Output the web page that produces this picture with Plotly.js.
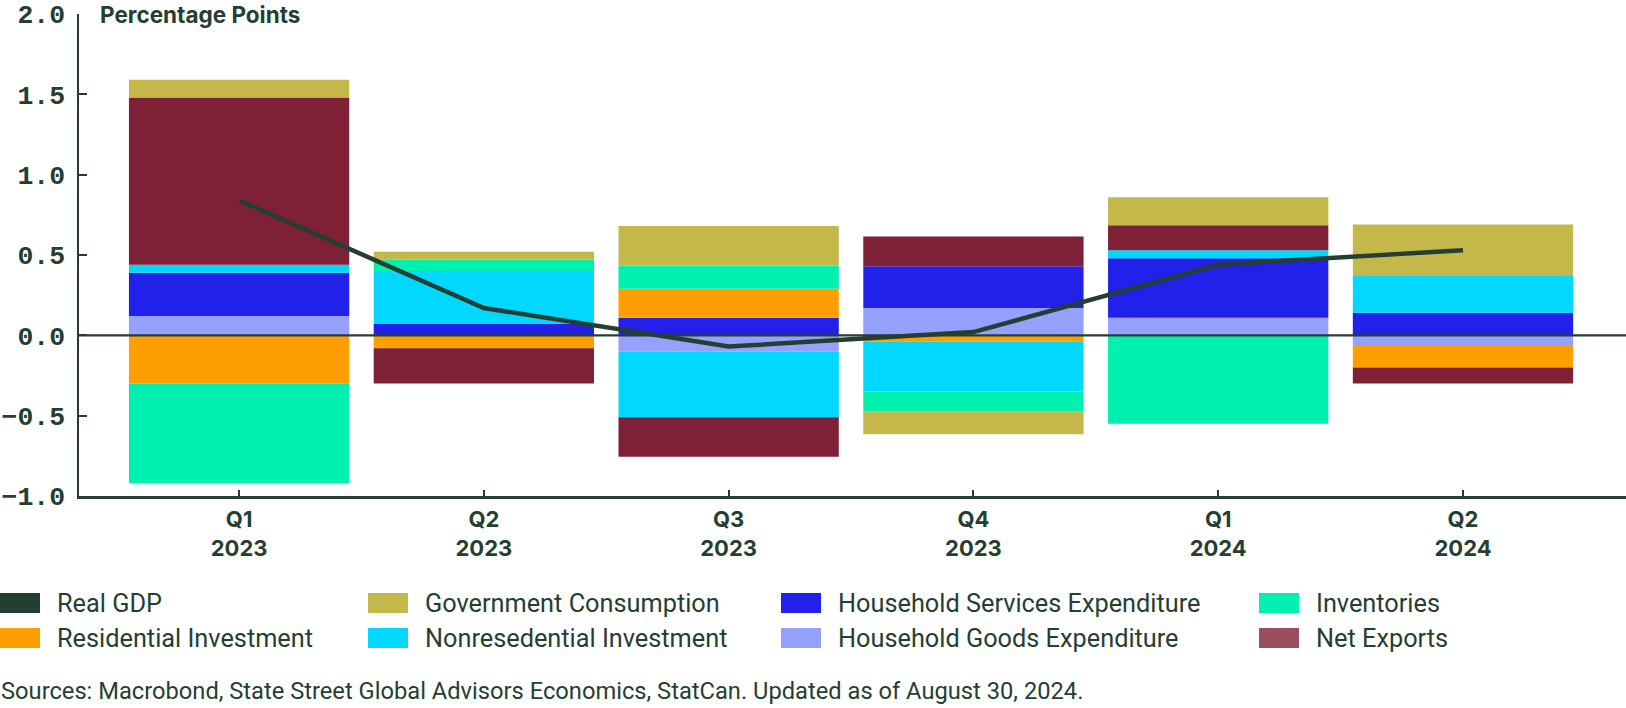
<!DOCTYPE html>
<html>
<head>
<meta charset="utf-8">
<script src="https://cdn.plot.ly/plotly-3.0.1.min.js"></script>
<style>
  html, body { margin: 0; padding: 0; background: #ffffff; }
  #chart { width: 1626px; height: 708px; }
</style>
</head>
<body>
<div id="chart"></div>
<script>
// ---- Data ----
const categories = ['Q1<br>2023', 'Q2<br>2023', 'Q3<br>2023', 'Q4<br>2023', 'Q1<br>2024', 'Q2<br>2024'];

const householdGoods    = [0.12, 0.00, -0.10, 0.17, 0.11, -0.06];
const householdServices = [0.27, 0.07, 0.11, 0.26, 0.37, 0.14];
const residential       = [-0.30, -0.08, 0.18, -0.04, 0.00, -0.14];
const nonresidential    = [0.05, 0.33, -0.41, -0.31, 0.05, 0.23];
const inventories       = [-0.62, 0.07, 0.145, -0.125, -0.55, 0.00];
const netExports        = [1.04, -0.22, -0.245, 0.185, 0.155, -0.10];
const government        = [0.11, 0.05, 0.245, -0.14, 0.175, 0.32];
const realGDP           = [0.84, 0.17, -0.07, 0.02, 0.44, 0.53];

const yTickValues = [-1.0, -0.5, 0.0, 0.5, 1.0, 1.5, 2.0];

// ---- Styles ----
const C = {
  ink: '#243f32',
  gov: '#c4b84b',
  hhs: '#2121ea',
  inv: '#00f0b0',
  res: '#ff9e00',
  nonres: '#00d8ff',
  hhg: '#96a0ff',
  nx: '#7f2136',
  nxLegend: '#9b4e5e'
};

// stacking order (bottom-up for positive, top-down for negative)
const barSeries = [
  { name: 'Household Goods Expenditure',    y: householdGoods,    color: C.hhg },
  { name: 'Household Services Expenditure', y: householdServices, color: C.hhs },
  { name: 'Residential Investment',         y: residential,       color: C.res },
  { name: 'Nonresedential Investment',      y: nonresidential,    color: C.nonres },
  { name: 'Inventories',                    y: inventories,       color: C.inv },
  { name: 'Net Exports',                    y: netExports,        color: C.nx },
  { name: 'Government Consumption',         y: government,        color: C.gov }
];

const traces = barSeries.map(s => ({
  type: 'bar',
  name: s.name,
  x: categories,
  y: s.y,
  marker: { color: s.color, line: { width: 0 } },
  showlegend: false,
  hoverinfo: 'x+y+name'
}));

traces.push({
  type: 'scatter',
  mode: 'lines',
  name: 'Real GDP',
  x: categories,
  y: realGDP,
  line: { color: C.ink, width: 4.5 },
  showlegend: false
});

// ---- Geometry of the plot area (pixels) ----
const W = 1626, Hgt = 708;
const M = { l: 79, r: 0, t: 14, b: 212 };
const PW = W - M.l - M.r, PH = Hgt - M.t - M.b;
const px = v => (v - M.l) / PW;          // pixel x -> paper x
const py = v => (Hgt - M.b - v) / PH;    // pixel y -> paper y

// ---- Legend (4 columns, 2 rows) ----
const legendEntries = [
  { name: 'Real GDP',                        color: C.ink,    col: 0, row: 0 },
  { name: 'Residential Investment',          color: C.res,    col: 0, row: 1 },
  { name: 'Government Consumption',          color: C.gov,    col: 1, row: 0 },
  { name: 'Nonresedential Investment',       color: C.nonres, col: 1, row: 1 },
  { name: 'Household Services Expenditure',  color: C.hhs,    col: 2, row: 0 },
  { name: 'Household Goods Expenditure',     color: C.hhg,    col: 2, row: 1 },
  { name: 'Inventories',                     color: C.inv,    col: 3, row: 0 },
  { name: 'Net Exports',                     color: C.nxLegend, col: 3, row: 1 }
];
const colX = [0, 368, 781, 1259];
const rowY = [603, 638];
const swW = 40, swH = 20, txtGap = 15;

const shapes = [
  { type: 'line', xref: 'paper', yref: 'y', x0: 0, x1: 1, y0: 0, y1: 0,
    line: { color: C.ink, width: 2.2 }, layer: 'above' }
];
const annotations = [
  { xref: 'paper', yref: 'paper', x: px(98), y: py(15), xanchor: 'left', yanchor: 'middle',
    text: 'Percentage Points', showarrow: false,
    font: { family: 'Inter, Roboto, sans-serif', size: 22.5, weight: 700, color: C.ink } },
  { xref: 'paper', yref: 'paper', x: px(-1), y: py(691), xanchor: 'left', yanchor: 'middle',
    text: 'Sources: Macrobond, State Street Global Advisors Economics, StatCan. Updated as of August 30, 2024.',
    showarrow: false,
    font: { family: 'Roboto, sans-serif', size: 23.7, weight: 400, color: C.ink } }
];
legendEntries.forEach(e => {
  const x0 = colX[e.col], yc = rowY[e.row];
  shapes.push({ type: 'rect', xref: 'paper', yref: 'paper',
    x0: px(x0), x1: px(x0 + swW), y0: py(yc - swH / 2), y1: py(yc + swH / 2),
    fillcolor: e.color, line: { width: 0 } });
  annotations.push({ xref: 'paper', yref: 'paper', x: px(x0 + swW + txtGap), y: py(yc),
    xanchor: 'left', yanchor: 'middle', text: e.name, showarrow: false,
    font: { family: 'Roboto, sans-serif', size: 25.3, weight: 400, color: C.ink } });
});

const layout = {
  width: W, height: Hgt,
  margin: M,
  paper_bgcolor: '#ffffff',
  plot_bgcolor: '#ffffff',
  barmode: 'relative',
  bargap: 0.1,
  showlegend: false,
  xaxis: {
    type: 'category',
    range: [-0.654, 5.666],
    showline: true, linecolor: C.ink, linewidth: 2.5,
    ticks: 'inside', ticklen: 6, tickwidth: 2, tickcolor: C.ink,
    showgrid: false, zeroline: false,
    ticklabelstandoff: 2,
    tickfont: { family: 'Inter, Roboto, sans-serif', size: 22, weight: 700, color: C.ink }
  },
  yaxis: {
    range: [-1, 2],
    tickvals: yTickValues,
    tickformat: '.1f',
    showline: true, linecolor: C.ink, linewidth: 2.5,
    ticks: 'inside', ticklen: 8, tickwidth: 2, tickcolor: C.ink,
    showgrid: false, zeroline: false,
    ticklabelstandoff: 6,
    tickfont: { family: '"Liberation Mono", "DejaVu Sans Mono", monospace', size: 26.5, weight: 700, color: C.ink }
  },
  shapes: shapes,
  annotations: annotations,
  font: { family: 'Roboto, sans-serif', color: C.ink }
};

Plotly.newPlot('chart', traces, layout, { displayModeBar: false, staticPlot: true });
</script>
</body>
</html>
